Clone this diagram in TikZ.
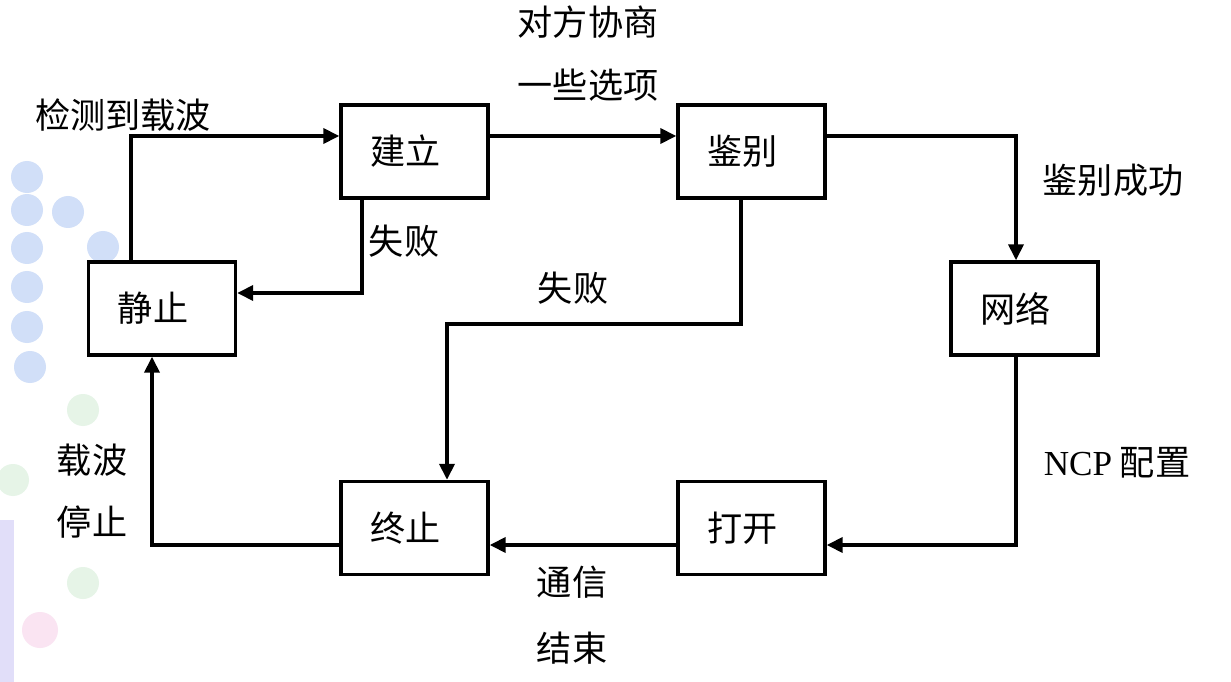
\documentclass[tikz,border=0pt]{standalone}
\usepackage{fontspec}
\setmainfont{Liberation Serif}
\newfontfamily\cjk{Noto Sans CJK SC}
\newfontfamily\latn{Liberation Serif}
\usetikzlibrary{arrows.meta}
\definecolor{dotblue}{RGB}{198,216,247}
\definecolor{dotgreen}{RGB}{224,242,226}
\definecolor{dotpink}{RGB}{250,228,242}
\definecolor{stripc}{RGB}{205,200,245}
\newcommand{\padr}{\rule{0.36cm}{0pt}}
\tikzset{
  statebox/.style={draw=black, line width=2pt, fill=white, minimum width=2.94cm, minimum height=1.86cm, inner sep=0pt, font=\cjk\fontsize{20pt}{24pt}\selectfont},
  lbl/.style={inner sep=0pt, font=\cjk\fontsize{20pt}{24pt}\selectfont},
  conn/.style={line width=2pt, -{Triangle[length=9pt,width=8.5pt]}}
}
\begin{document}
\begin{tikzpicture}[x=0.02cm,y=-0.02cm]
\useasboundingbox (0,0) rectangle (1231,682);
\fill[white] (0,0) rectangle (1231,682);
% background decoration
\fill[stripc,opacity=0.6] (0,520) rectangle (14,682);
\foreach \cx/\cy in {27/177,27/210,68/212,27/248,103/247,27/287,27/327,30/367}
  \fill[dotblue,opacity=0.8] (\cx,\cy) circle (16);
\foreach \cx/\cy in {83/410,13/480,83/583}
  \fill[dotgreen,opacity=0.8] (\cx,\cy) circle (16);
\fill[dotpink] (40,630) circle (18);
% coordinates for connector routing
\coordinate (y136) at (0,136);
\coordinate (y293) at (0,293);
\coordinate (y545) at (0,545);
\coordinate (x131) at (131,0);
\coordinate (x152) at (152,0);
\coordinate (x362) at (362,0);
\coordinate (x447) at (447,0);
\coordinate (x1016) at (1016,0);
\coordinate (b1) at (741,324);
\coordinate (b2) at (447,324);
% boxes
\node[statebox] (jl) at (414.5,151.5) {建立\padr};
\node[statebox] (jb) at (751.5,151.5) {鉴别\padr};
\node[statebox] (jz) at (162,308.5) {静止\padr};
\node[statebox] (wl) at (1024.5,308.5) {网络\padr};
\node[statebox] (zz) at (414.5,528) {终止\padr};
\node[statebox] (dk) at (751.5,528) {打开\padr};
% connectors
\draw[conn] (jz.north -| x131) |- (jl.west |- y136);
\draw[conn] (jl.east |- y136) -- (jb.west |- y136);
\draw[conn] (jb.east |- y136) -| (wl.north -| x1016);
\draw[conn] (jl.south -| x362) |- (jz.east |- y293);
\draw[conn] (jb.south -| b1) -- (b1) -- (b2) -- (zz.north -| x447);
\draw[conn] (wl.south -| x1016) |- (dk.east |- y545);
\draw[conn] (dk.west |- y545) -- (zz.east |- y545);
\draw[conn] (zz.west |- y545) -| (jz.south -| x152);
% labels
\node[lbl] (l1) at (123,115) {检测到载波};
\node[lbl] (l2) at (588,22) {对方协商};
\node[lbl] (l3) at (588,85) {一些选项};
\node[lbl] (l4) at (1113,180) {鉴别成功};
\node[lbl] (l5) at (404,241) {失败};
\node[lbl] (l6) at (573,288) {失败};
\node[lbl] (l7) at (1117,463) {{\latn\fontsize{20pt}{24pt}\selectfont NCP} 配置};
\node[lbl] (l8) at (92,460) {载波};
\node[lbl] (l9) at (92,522) {停止};
\node[lbl] (l10) at (572,582) {通信};
\node[lbl] (l11) at (572,648) {结束};
\end{tikzpicture}
\end{document}
